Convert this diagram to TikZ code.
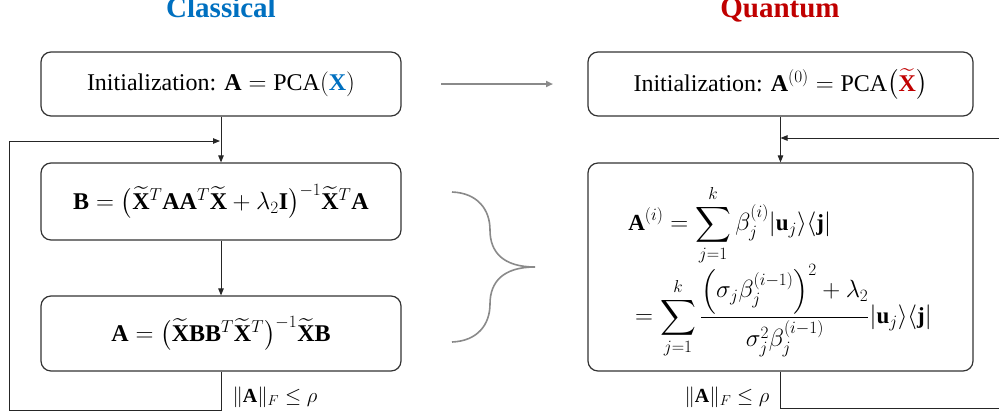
\documentclass[tikz,border=0pt]{standalone}
\usepackage{amsmath}
\usepackage{fontspec}
\setmainfont{Liberation Serif}
\usetikzlibrary{arrows.meta}
\definecolor{cblue}{HTML}{0070C0}
\definecolor{qred}{HTML}{C00000}
\definecolor{brgray}{HTML}{8A8A8A}
\begin{document}
\begin{tikzpicture}[x=1pt,y=-1pt,
  box/.style={draw=black!80, line width=1.2pt, rounded corners=10pt, inner sep=0pt, align=center},
  conn/.style={draw=black!85, line width=0.9pt},
  tipped/.style={-{Triangle[length=7pt,width=5.5pt]}},
  title/.style={anchor=base, font=\fontsize{29}{34}\selectfont\bfseries},
  eqfont/.style={font=\fontsize{24}{29}\selectfont},
  lab/.style={font=\fontsize{20}{24}\selectfont}]
\useasboundingbox (0,0) rectangle (999,416);

% titles
\node[title, text=cblue] (tc) at (221,17) {Classical};
\node[title, text=qred] (tq) at (780,17) {Quantum};

% classical boxes
\node[box, eqfont, minimum width=360pt, minimum height=64pt] (init1) at (221,84)
  {Initialization: $\mathbf{A} = \mathrm{PCA}(\textcolor{cblue}{\mathbf{X}})$};
\node[box, eqfont, minimum width=360pt, minimum height=77pt] (Bbox) at (221,201.5)
  {$\mathbf{B} = \bigl(\widetilde{\mathbf{X}}^T\mathbf{A}\mathbf{A}^T\widetilde{\mathbf{X}} + \lambda_2\mathbf{I}\bigr)^{-1}\widetilde{\mathbf{X}}^T\mathbf{A}$};
\node[box, eqfont, minimum width=360pt, minimum height=75pt] (Abox) at (221,333.5)
  {$\mathbf{A} = \bigl(\widetilde{\mathbf{X}}\mathbf{B}\mathbf{B}^T\widetilde{\mathbf{X}}^T\bigr)^{-1}\widetilde{\mathbf{X}}\mathbf{B}$};

% quantum boxes
\node[box, eqfont, minimum width=385pt, minimum height=64pt] (init2) at (780.5,84)
  {Initialization: $\mathbf{A}^{(0)} = \mathrm{PCA}\bigl(\textcolor{qred}{\widetilde{\mathbf{X}}}\bigr)$};
\node[box, minimum width=385pt, minimum height=208pt] (Qbox) at (780.5,267) {};
\node[font=\fontsize{23}{28}\selectfont, inner sep=0pt] (qeq) at (780,272)
  {$\displaystyle\begin{aligned}
  &\mathbf{A}^{(i)} = \sum_{j=1}^{k}\beta_j^{(i)}\lvert\mathbf{u}_j\rangle\langle\mathbf{j}\rvert\\[-5pt]
  &= \sum_{j=1}^{k}\frac{\left(\sigma_j\beta_j^{(i-1)}\right)^2+\lambda_2}{\sigma_j^2\beta_j^{(i-1)}}\lvert\mathbf{u}_j\rangle\langle\mathbf{j}\rvert
  \end{aligned}$};

% classical connectors
\draw[conn, tipped] (init1.south) -- (Bbox.north);
\draw[conn, tipped] (Bbox.south) -- (Abox.north);
\coordinate (l1) at (221,410);
\coordinate (l2) at (9,410);
\coordinate (l3) at (9,141);
\coordinate (l4) at (220,141);
\draw[conn, tipped] (Abox.south) -- (l1) -- (l2) -- (l3) -- (l4);
\node[lab, anchor=west] (labc) at (229,397) {$\|\mathbf{A}\|_F \le \rho$};

% quantum connectors
\draw[conn, tipped] (init2.south) -- (Qbox.north);
\coordinate (r1) at (780.5,408);
\coordinate (r2) at (1010,408);
\coordinate (r3) at (1010,138);
\coordinate (r4) at (780.5,138);
\draw[conn] (Qbox.south) -- (r1) -- (r2);
\draw[conn, tipped] (r3) -- (r4);
\node[lab, anchor=east] (labq) at (773,397) {$\|\mathbf{A}\|_F \le \rho$};

% middle gray arrow
\coordinate (g1) at (441,84);
\coordinate (g2) at (553,84);
\draw[draw=brgray, line width=1.8pt, -{Triangle[length=7pt,width=6pt]}] (g1) -- (g2);

% brace
\draw[draw=brgray, line width=1.6pt]
  (452,192) .. controls (478,193) and (490,210) .. (490,230)
  .. controls (490,252) and (503,267) .. (535,267)
  .. controls (503,267) and (490,282) .. (490,304)
  .. controls (490,324) and (478,341) .. (452,342);
\end{tikzpicture}
\end{document}
